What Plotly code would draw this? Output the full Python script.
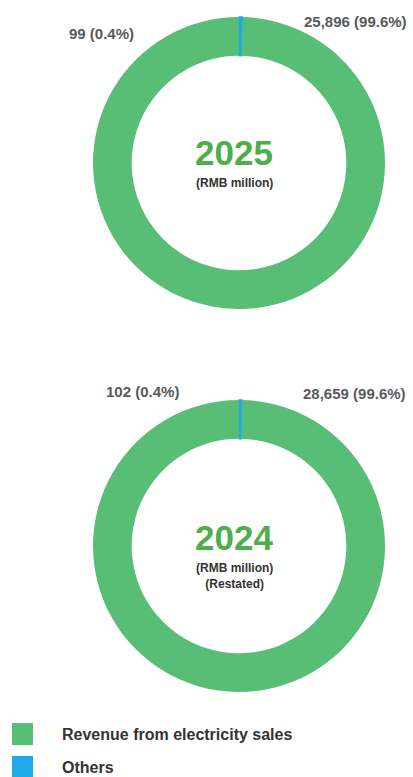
import plotly.graph_objects as go

W, H = 413, 777

years = ["2025", "2024"]
categories = ["Revenue from electricity sales", "Others"]
revenue = [25896, 28659]
others = [99, 102]
notes = ["(RMB million)", "(RMB million)<br>(Restated)"]

green = "#58bd75"
blue = "#1fa9e6"
label_col = "#58595b"
year_col = "#4dae4a"
font_family = "Liberation Sans, Arial, sans-serif"


def px(x):
    return x / W


def py(y):
    return 1 - y / H


# donut geometry (pixels): center x, center y, radius
donuts = [(239, 163, 146), (239, 546, 146)]
value_label_pos = [
    [(355, 22), (101, 33)],
    [(354, 393), (142, 391)],
]
year_pos = [(234, 152), (234, 537)]
note_pos = [(234, 183), (234, 576)]

fig = go.Figure()
annotations = []

for i, (cx, cy, r) in enumerate(donuts):
    vals = [others[i], revenue[i]]
    fig.add_trace(go.Pie(
        labels=[categories[1], categories[0]],
        values=vals,
        hole=0.735,
        sort=False,
        direction="counterclockwise",
        rotation=0,
        marker=dict(colors=[blue, green], line=dict(width=[1.5, 0], color=[blue, green])),
        textinfo="none",
        hoverinfo="label+value+percent",
        showlegend=False,
        domain=dict(x=[px(cx - r), px(cx + r)], y=[py(cy + r), py(cy - r)]),
    ))
    total = revenue[i] + others[i]
    texts = [
        f"{revenue[i]:,} ({revenue[i] / total * 100:.1f}%)",
        f"{others[i]:,} ({others[i] / total * 100:.1f}%)",
    ]
    for t, (lx, ly) in zip(texts, value_label_pos[i]):
        annotations.append(dict(
            x=px(lx), y=py(ly), xref="paper", yref="paper",
            text=f"<b>{t}</b>", showarrow=False,
            font=dict(size=15, color=label_col, family=font_family),
            xanchor="center", yanchor="middle",
        ))
    annotations.append(dict(
        x=px(year_pos[i][0]), y=py(year_pos[i][1]), xref="paper", yref="paper",
        text=f"<b>{years[i]}</b>", showarrow=False,
        font=dict(size=35, color=year_col, family=font_family),
        xanchor="center", yanchor="middle",
    ))
    annotations.append(dict(
        x=px(note_pos[i][0]), y=py(note_pos[i][1]), xref="paper", yref="paper",
        text=f"<b>{notes[i]}</b>", showarrow=False,
        font=dict(size=12, color="#333333", family=font_family),
        xanchor="center", yanchor="middle",
    ))

# manual legend
legend_rows = [(categories[0], green, 734), (categories[1], blue, 767)]
shapes = []
for name, col, yc in legend_rows:
    shapes.append(dict(
        type="rect", xref="paper", yref="paper",
        x0=px(12), x1=px(33), y0=py(yc + 11), y1=py(yc - 11),
        fillcolor=col, line=dict(width=0),
    ))
    annotations.append(dict(
        x=px(60), y=py(yc), xref="paper", yref="paper",
        text=f"<b>{name}</b>", showarrow=False,
        font=dict(size=16, color="#333333", family=font_family),
        xanchor="left", yanchor="middle",
    ))

fig.update_layout(
    width=W, height=H,
    margin=dict(l=0, r=0, t=0, b=0),
    paper_bgcolor="white", plot_bgcolor="white",
    annotations=annotations, shapes=shapes,
)

fig.write_html(
    "out.html",
    config={"displayModeBar": False},
    post_script="document.body.style.margin='0';document.body.style.padding='0';document.body.style.overflow='hidden';",
)
